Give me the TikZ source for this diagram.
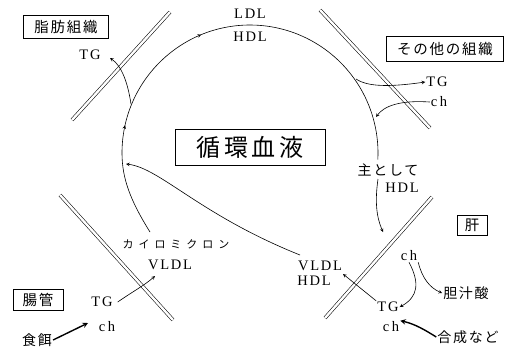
\documentclass[tikz,border=0pt]{standalone}
\usepackage{fontspec}
\setmainfont{Liberation Serif}[LetterSpace=12]
\newfontfamily\jp{Noto Sans CJK JP}[LetterSpace=12]
\newfontfamily\jpwide{Noto Sans CJK JP}[LetterSpace=45]
\newfontfamily\jpbig{Noto Sans CJK JP}[LetterSpace=15]
\usetikzlibrary{decorations.markings}

\begin{document}
\begin{tikzpicture}[x=1pt, y=-1pt, >=stealth,
    membrane/.style={draw, double, double distance=2.4pt, line width=0.55pt},
    flow/.style={->, line width=0.6pt},
    feed/.style={->, line width=1.4pt},
    tissue/.style={draw, line width=0.9pt, inner sep=0pt, font=\jp\fontsize{14.5}{14.5}\selectfont},
    lipo/.style={inner sep=1pt, font=\fontsize{14.5}{14.5}\selectfont},
    jtext/.style={inner sep=1pt, font=\jp\fontsize{14}{14}\selectfont}]
  \useasboundingbox (0,0) rectangle (511,349);

  % membranes
  \draw[membrane] (72,120) -- (170,12);
  \draw[membrane] (320,10) -- (430,128);
  \draw[membrane] (60,195) -- (173,320);
  \draw[membrane] (325,318) -- (432,197);

  % tissues
  \node[tissue, minimum width=85pt, minimum height=23pt] (adipose) at (66,27) {脂肪組織};
  \node[tissue, minimum width=117pt, minimum height=25pt] (other) at (445,49) {その他の組織};
  \node[tissue, minimum width=50pt, minimum height=21pt] (gut) at (38,300) {腸管};
  \node[tissue, minimum width=30pt, minimum height=20pt] (liver) at (472,225) {肝};
  \node[draw, line width=0.9pt, minimum width=150pt, minimum height=36pt,
        font=\jpbig\fontsize{24}{24}\selectfont] (blood) at (250,147) {循環血液};

  % blood stream
  \draw[line width=0.6pt, postaction={decorate}, decoration={markings,
        mark=at position 113pt with {\arrow{stealth}},
        mark=at position 236pt with {\arrow{stealth}}}]
    (150,232) .. controls (130,200) and (122,178) .. (122,153)
    arc[start angle=180, end angle=363, radius=128];
  \node[lipo] (ldl) at (250,14) {LDL};
  \node[lipo] (hdlT) at (250,37) {HDL};

  % adipose tissue
  \node[lipo] (tgA) at (90,55) {TG};
  \coordinate (tgAin) at (110,58);
  \draw[flow] (131,104) .. controls (128,84) and (122,66) .. (tgAin);

  % other tissues
  \node[lipo] (tgO) at (437,82) {TG};
  \node[lipo] (chO) at (439,102) {c\,h};
  \coordinate (chOin) at (376,117);
  \draw[flow] (356,79) .. controls (368,87) and (390,87) .. (tgO.west);
  \draw[flow] (chO.west) .. controls (400,100) and (384,106) .. (chOin);

  % to liver
  \node[jtext] (mainly) at (388,170) {主として};
  \node[lipo] (hdlM) at (402,188) {HDL};
  \coordinate (liverin) at (383,232);
  \draw[flow] (378,179) .. controls (375,200) and (376,216) .. (liverin);

  % intestine
  \node[lipo, font=\jpwide\fontsize{11}{11}\selectfont] (chylo) at (176,244) {カイロミクロン};
  \node[lipo] (vldlI) at (170,265) {VLDL};
  \node[lipo] (tgI) at (102,302) {TG};
  \node[lipo] (chI) at (107,327) {c\,h};
  \node[jtext] (food) at (37,340) {食餌};
  \coordinate (vldlIin) at (155,276);
  \coordinate (chIin) at (88,323);
  \draw[flow] ([xshift=4pt]tgI.east) .. controls (132,292) and (145,285) .. (vldlIin);
  \draw[feed] (food.east) -- (chIin);

  % liver
  \node[lipo] (vldlL) at (320,266) {VLDL};
  \node[lipo] (hdlL) at (314,281) {HDL};
  \node[lipo] (tgL) at (388,307) {TG};
  \node[lipo] (chL) at (391,327) {c\,h};
  \node[lipo] (chUp) at (409,256) {c\,h};
  \node[jtext] (bile) at (466,293) {胆汁酸};
  \node[jtext] (synth) at (468,337) {合成など};
  \coordinate (vldlLin) at (343,274);
  \coordinate (vldlLout) at (300,255);
  \coordinate (joinV) at (126,164);
  \draw[flow] (tgL.north west) -- (vldlLin);
  \draw[flow] (chUp.south) .. controls (420,283) and (418,297) .. (tgL.east);
  \draw[flow] (chUp.south east) .. controls (422,278) and (430,288) .. (bile.west);
  \draw[feed] (synth.west) .. controls (425,330) and (415,324) .. (chL.north east);
  \draw[flow] (vldlLout) .. controls (200,215) and (160,168) .. (joinV);
\end{tikzpicture}
\end{document}
